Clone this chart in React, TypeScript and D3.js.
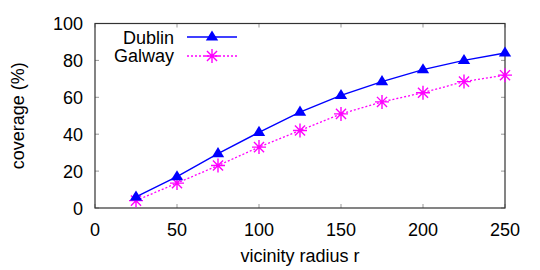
import React from "react";
import * as d3 from "d3";

const radius = [25, 50, 75, 100, 125, 150, 175, 200, 225, 250];
const dublin = [6, 17, 29.5, 41, 52, 61, 68.5, 75, 80, 84];
const galway = [4, 13.5, 23, 33, 42, 51, 57.5, 62.5, 68.5, 72];
const xTicks = [0, 50, 100, 150, 200, 250];
const yTicks = [0, 20, 40, 60, 80, 100];

const W = 540, H = 270;
const m = { left: 95, right: 35, top: 23.5, bottom: 62 };
const font = "'Liberation Sans', Arial, sans-serif";

const tri = (x: number, y: number, r = 6.5) =>
  `M${x},${y - r}L${x + r * 0.95},${y + r * 0.55}L${x - r * 0.95},${y + r * 0.55}Z`;

const star = (x: number, y: number, r = 7) => {
  const d = r * 0.72;
  return `M${x - r},${y}L${x + r},${y}M${x},${y - r}L${x},${y + r}M${x - d},${y - d}L${x + d},${y + d}M${x - d},${y + d}L${x + d},${y - d}`;
};

export default function App() {
  const x = d3.scaleLinear().domain([0, 250]).range([m.left, W - m.right]);
  const y = d3.scaleLinear().domain([0, 100]).range([H - m.bottom, m.top]);
  const line = d3.line<[number, number]>().x(d => x(d[0])).y(d => y(d[1]));
  const dub = radius.map((r, i) => [r, dublin[i]] as [number, number]);
  const gal = radius.map((r, i) => [r, galway[i]] as [number, number]);
  const [x0, x1] = x.range();
  const [y0, y1] = y.range();
  const blue = "#0000ff", mag = "#ff00ff";

  return (
    <svg width={W} height={H} style={{ position: "absolute", left: 0, top: 0 }} fontFamily={font}>
      <rect width={W} height={H} fill="#fff" />
      {/* ticks, mirrored on both sides */}
      {xTicks.map(t => (
        <g key={"x" + t} stroke="#999" strokeWidth={1}>
          <line x1={x(t)} x2={x(t)} y1={y0} y2={y0 - 4} />
          <line x1={x(t)} x2={x(t)} y1={y1} y2={y1 + 4} />
        </g>
      ))}
      {yTicks.map(t => (
        <g key={"y" + t} stroke="#999" strokeWidth={1}>
          <line x1={x0} x2={x0 + 4} y1={y(t)} y2={y(t)} />
          <line x1={x1} x2={x1 - 4} y1={y(t)} y2={y(t)} />
        </g>
      ))}
      <rect x={x0} y={y1} width={x1 - x0} height={y0 - y1} fill="none" stroke="#333" strokeWidth={1.2} />
      {xTicks.map(t => (
        <text key={"xl" + t} x={x(t)} y={y0 + 28} fontSize={18} textAnchor="middle">{t}</text>
      ))}
      {yTicks.map(t => (
        <text key={"yl" + t} x={x0 - 12} y={y(t) + 6.5} fontSize={18} textAnchor="end">{t}</text>
      ))}
      <text x={300} y={262} fontSize={18} textAnchor="middle">vicinity radius r</text>
      <text transform={`translate(24,${(y0 + y1) / 2}) rotate(-90)`} fontSize={18} textAnchor="middle">coverage (%)</text>

      {/* series */}
      <path d={line(gal) || ""} fill="none" stroke={mag} strokeWidth={1.3} strokeDasharray="2,2" />
      {gal.map((d, i) => (
        <path key={"g" + i} d={star(x(d[0]), y(d[1]))} stroke={mag} strokeWidth={1.4} fill="none" />
      ))}
      <path d={line(dub) || ""} fill="none" stroke={blue} strokeWidth={1.4} />
      {dub.map((d, i) => (
        <path key={"d" + i} d={tri(x(d[0]), y(d[1]))} fill={blue} />
      ))}

      {/* legend */}
      <text x={174} y={43.5} fontSize={18} textAnchor="end">Dublin</text>
      <line x1={187} x2={237} y1={37} y2={37} stroke={blue} strokeWidth={1.4} />
      <path d={tri(212, 37)} fill={blue} />
      <text x={174} y={62} fontSize={18} textAnchor="end">Galway</text>
      <line x1={187} x2={237} y1={56} y2={56} stroke={mag} strokeWidth={1.3} strokeDasharray="2,2" />
      <path d={star(212, 56)} stroke={mag} strokeWidth={1.4} fill="none" />
    </svg>
  );
}
